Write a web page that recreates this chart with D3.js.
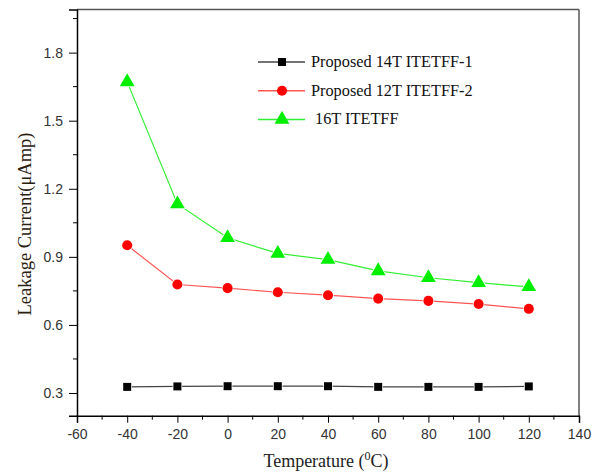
<!DOCTYPE html>
<html><head><meta charset="utf-8">
<script src="https://cdn.jsdelivr.net/npm/d3@7"></script>
<style>body{margin:0;background:#fff}svg{display:block}</style>
</head><body>
<script>
const temps = [-40, -20, 0, 20, 40, 60, 80, 100, 120];
const s14T = [0.327, 0.329, 0.330, 0.330, 0.330, 0.327, 0.327, 0.327, 0.329];
const s12T = [0.951, 0.778, 0.762, 0.744, 0.731, 0.716, 0.706, 0.692, 0.671];
const s16T = [1.671, 1.133, 0.984, 0.915, 0.888, 0.838, 0.808, 0.786, 0.768];
const seriesNames = ["Proposed 14T ITETFF-1", "Proposed 12T ITETFF-2", " 16T ITETFF"];
const xTicks = [-60, -40, -20, 0, 20, 40, 60, 80, 100, 120, 140];
const yTicks = [0.3, 0.6, 0.9, 1.2, 1.5, 1.8];

const W = 600, H = 474;
const m = {l: 77, t: 9.5, r: 579, b: 415.7};
const svg = d3.select("body").append("svg").attr("width", W).attr("height", H);

const x = d3.scaleLinear().domain([-60, 140]).range([m.l, m.r]);
const y = d3.scaleLinear().domain([0.2, 1.99]).range([m.b, m.t]);

// frame top/right
svg.append("line").attr("x1", m.l).attr("x2", m.r).attr("y1", m.t).attr("y2", m.t).attr("stroke", "#555").attr("stroke-width", 1.5);
svg.append("line").attr("x1", m.r).attr("x2", m.r).attr("y1", m.t).attr("y2", m.b).attr("stroke", "#555").attr("stroke-width", 1.5);

// axes
const xMinor = d3.range(-50, 140, 20);
const yMinor = d3.range(0.45, 1.99, 0.3);
const gx = svg.append("g").attr("transform", `translate(0,${m.b})`);
gx.call(d3.axisBottom(x).tickValues(xTicks).tickSize(7).tickFormat(d => String(d)));
gx.selectAll(".minor").data(xMinor).enter().append("line")
  .attr("x1", d => x(d)).attr("x2", d => x(d)).attr("y1", 0).attr("y2", 4).attr("stroke", "#000");
const gy = svg.append("g").attr("transform", `translate(${m.l},0)`);
gy.call(d3.axisLeft(y).tickValues(yTicks).tickSize(8).tickFormat(d3.format(".1f")));
gy.selectAll(".minor").data(yMinor).enter().append("line")
  .attr("y1", d => y(d)).attr("y2", d => y(d)).attr("x1", 0).attr("x2", -4).attr("stroke", "#000");
[gx, gy].forEach(g => {
  g.select(".domain").attr("stroke", "#000").attr("stroke-width", 1.5);
  g.selectAll(".tick line").attr("stroke", "#000");
  g.selectAll(".tick text").attr("fill", "#333").style("font-family", "'Liberation Sans', Arial, sans-serif").style("font-size", "14px");
});
gx.selectAll(".tick text").attr("dy", "0.95em");
gy.selectAll(".tick text").attr("x", -14);

// series
const series = [
  {vals: s14T, line: "#444", fill: "#000", shape: d3.symbolSquare, size: 64},
  {vals: s12T, line: "#ff5555", fill: "#ff0000", shape: d3.symbolCircle, size: 80},
  {vals: s16T, line: "#33ee33", fill: "#00ee00", shape: d3.symbolTriangle, size: 95}
];
const line = d3.line().x((d, i) => x(temps[i])).y(d => y(d));
series.forEach(s => {
  svg.append("path").datum(s.vals).attr("d", line).attr("fill", "none").attr("stroke", s.line).attr("stroke-width", 1.2);
});
series.forEach(s => {
  svg.selectAll(null).data(s.vals).enter().append("path")
    .attr("d", d3.symbol().type(s.shape).size(s.size))
    .attr("transform", (d, i) => `translate(${x(temps[i])},${y(d)})`)
    .attr("fill", s.fill).attr("stroke", "#fff").attr("stroke-width", 1.5).style("paint-order", "stroke");
});

// legend
const lg = svg.append("g");
series.forEach((s, i) => {
  const yy = 62 + i * 28.7;
  lg.append("line").attr("x1", 258).attr("x2", 305).attr("y1", yy).attr("y2", yy).attr("stroke", s.line).attr("stroke-width", 1.5);
  lg.append("path").attr("d", d3.symbol().type(s.shape).size(s.size)).attr("transform", `translate(282,${yy})`).attr("fill", s.fill);
  lg.append("text").attr("x", 311).attr("y", yy + 5).text(seriesNames[i])
    .style("font-family", "'Liberation Serif', 'Times New Roman', serif").style("font-size", "16.3px").attr("fill", "#111")
    .attr("xml:space", "preserve").style("white-space", "pre");
});

// axis titles
const xt = svg.append("text").attr("x", 326).attr("y", 467).attr("text-anchor", "middle")
  .style("font-family", "'Liberation Serif', 'Times New Roman', serif").style("font-size", "18px").attr("fill", "#222");
xt.append("tspan").text("Temperature (");
xt.append("tspan").attr("dy", -7).style("font-size", "12px").text("0");
xt.append("tspan").attr("dy", 7).text("C)");

svg.append("text").attr("transform", "translate(31,224) rotate(-90)").attr("text-anchor", "middle")
  .style("font-family", "'Liberation Serif', 'Times New Roman', serif").style("font-size", "18.5px").attr("fill", "#2a2010")
  .text("Leakage Current(μAmp)");
</script>
</body></html>
